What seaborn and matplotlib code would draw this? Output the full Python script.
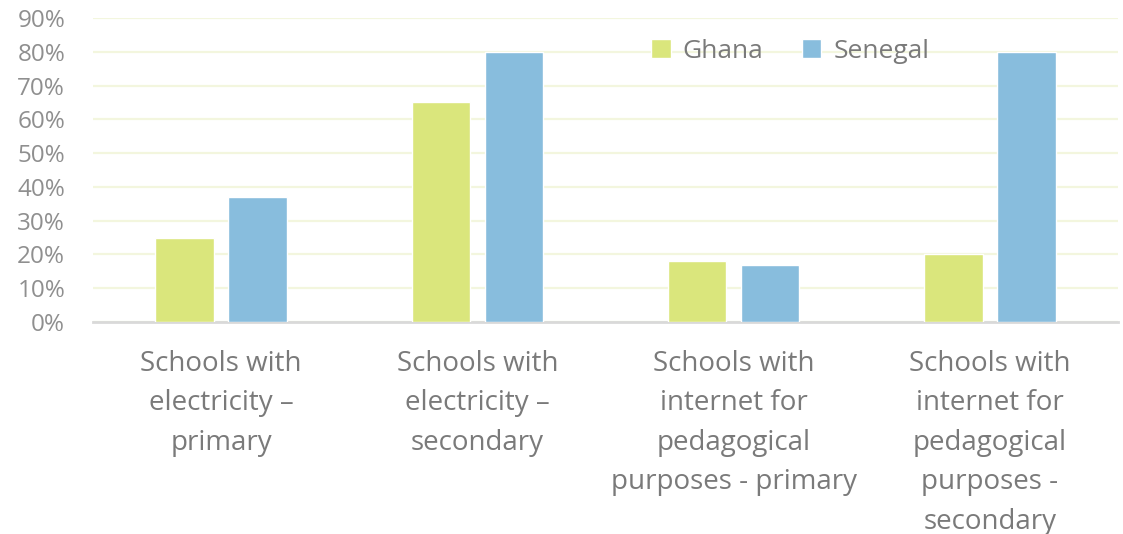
import matplotlib
matplotlib.use("Agg")
import matplotlib.pyplot as plt
import seaborn as sns
import pandas as pd
from matplotlib.ticker import PercentFormatter

categories = [
    "Schools with\nelectricity –\nprimary",
    "Schools with\nelectricity –\nsecondary",
    "Schools with\ninternet for\npedagogical\npurposes - primary",
    "Schools with\ninternet for\npedagogical\npurposes -\nsecondary",
]
ghana = [0.25, 0.65, 0.18, 0.20]
senegal = [0.37, 0.80, 0.17, 0.80]
series_names = ["Ghana", "Senegal"]
yticks = [0, 0.1, 0.2, 0.3, 0.4, 0.5, 0.6, 0.7, 0.8, 0.9]

df = pd.DataFrame({
    "category": categories * 2,
    "country": [series_names[0]] * 4 + [series_names[1]] * 4,
    "value": ghana + senegal,
})

sns.set_style("white")
plt.rcParams["font.family"] = ["Open Sans", "DejaVu Sans"]

fig = plt.figure(figsize=(11.23, 5.34), dpi=100)
ax = fig.add_axes([93 / 1123, 1 - 322 / 534, 1025 / 1123, 304 / 534])

sns.barplot(data=df, x="category", y="value", hue="country",
            palette=["#dae67c", "#88bddd"], width=0.57, gap=0.2,
            ax=ax, zorder=3, saturation=1)

ax.set_ylim(0, 0.9)
ax.set_xlim(-0.5, 3.5)
ax.set_yticks(yticks)
ax.yaxis.set_major_formatter(PercentFormatter(1.0, decimals=0))
ax.grid(axis="y", color="#f3f6de", linewidth=1.6, zorder=0)
ax.set_axisbelow(True)
for s in ["top", "right", "left"]:
    ax.spines[s].set_visible(False)
ax.spines["bottom"].set_color("#d9d9d9")
ax.spines["bottom"].set_linewidth(2)
ax.set_xlabel("")
ax.set_ylabel("")
ax.tick_params(axis="y", length=0, pad=20, labelsize=17.5, labelcolor="#8f8f8f")
ax.tick_params(axis="x", length=0, pad=20, labelsize=20, labelcolor="#7a7a7a")
for lab in ax.get_xticklabels():
    lab.set_linespacing(1.55)

leg = ax.legend(loc="center", bbox_to_anchor=(0.68, 0.89), ncol=2, frameon=False,
                fontsize=19, handlelength=0.75, handleheight=0.75,
                columnspacing=1.45, handletextpad=0.45)
for t in leg.get_texts():
    t.set_color("#7a7a7a")

fig.savefig("out.png", dpi=100)
